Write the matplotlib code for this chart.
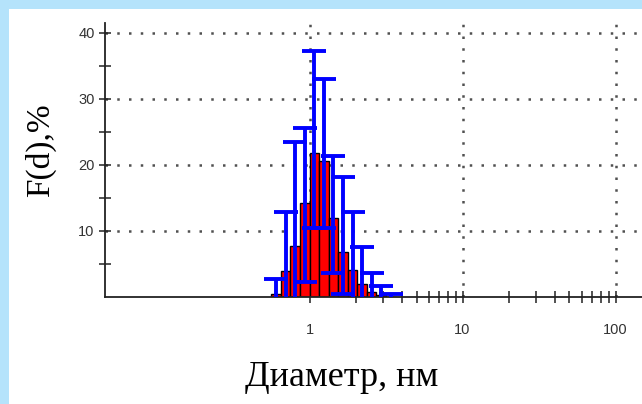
##````````````````````````````````````````````````````````````````````````````````````````````````##
# particle size distribution, F(d) vs diameter (log axis), bars with error bars
import numpy as np
import matplotlib.pyplot as plt
from matplotlib.patches import Rectangle
from matplotlib.ticker import FixedLocator, NullFormatter

##````````````````````````````````````````````````````````````````````````````````````````````````##
# data

# bin edges of the histogram, nm
bin_edges = [0.562, 0.649, 0.750, 0.866, 1.000, 1.155, 1.334, 1.540, 1.778, 2.054, 2.371, 2.738, 3.162, 3.652]

# bar heights, %
f_values = [0.5, 4.0, 7.8, 14.3, 21.8, 20.6, 11.9, 6.8, 4.1, 2.0, 0.8, 0.3, 0.0]

# error bar ends, %
err_upper = [2.8, 12.8, 23.5, 25.6, 37.3, 33.0, 21.3, 18.2, 12.8, 7.5, 3.7, 1.6, 0.5]
err_lower = [-1.8, -4.8, -7.9, 2.3, 10.4, 10.4, 3.7, 0.5, -4.6, -3.5, -2.1, -1.0, -0.5]

# axis ticks
x_major = [1, 10, 100]
x_minor = [2, 3, 4, 5, 6, 7, 8, 9, 20, 30, 40, 50, 60, 70, 80, 90]
y_major = [10, 20, 30, 40]
y_minor = [5, 15, 25, 35]

##````````````````````````````````````````````````````````````````````````````````````````````````##
# figure and frame

W, H = 642, 404
fig = plt.figure(figsize=(W / 100, H / 100), dpi=100)
fig.patch.set_facecolor('white')

# light blue strips on top and left
fig.patches.append(Rectangle((0, 1 - 9 / H), 1, 9 / H, transform=fig.transFigure,
                             facecolor='#b5e3fb', edgecolor='none', zorder=0))
fig.patches.append(Rectangle((0, 0), 9 / W, 1, transform=fig.transFigure,
                             facecolor='#b5e3fb', edgecolor='none', zorder=0))

ax_left, ax_bottom, ax_top = 105, 297, 23
ax = fig.add_axes([ax_left / W, 1 - ax_bottom / H, 1 - ax_left / W, (ax_bottom - ax_top) / H])
ax.set_facecolor('none')

##````````````````````````````````````````````````````````````````````````````````````````````````##
# bars and error bars

edges = np.array(bin_edges)
lefts = edges[:-1]
widths = np.diff(edges)
centers = np.sqrt(edges[:-1] * edges[1:])

vals = np.array(f_values)
up = np.array(err_upper) - vals
lo = vals - np.array(err_lower)

ax.bar(lefts, vals, width=widths, align='edge', color='#ff0000',
       edgecolor='black', linewidth=1.0, zorder=2)
ax.errorbar(centers, vals, yerr=[lo, up], fmt='none', ecolor='#0000ff',
            elinewidth=2.8, capsize=8.5, capthick=2.8, zorder=3)

##````````````````````````````````````````````````````````````````````````````````````````````````##
# axes styling

ax.set_xscale('log')
ax.set_xlim(0.046, 10 ** 2.173)
ax.set_ylim(0, 41.5)

ax.xaxis.set_major_locator(FixedLocator(x_major))
ax.xaxis.set_minor_locator(FixedLocator(x_minor))
ax.xaxis.set_minor_formatter(NullFormatter())
ax.set_xticklabels([str(v) for v in x_major])
ax.yaxis.set_major_locator(FixedLocator(y_major))
ax.yaxis.set_minor_locator(FixedLocator(y_minor))
ax.set_yticklabels([str(v) for v in y_major])

for s in ['top', 'right']:
    ax.spines[s].set_visible(False)
for s in ['left', 'bottom']:
    ax.spines[s].set_linewidth(1.3)
    ax.spines[s].set_color('#222222')

ax.tick_params(which='both', direction='inout', length=9, width=1.1, color='#222222')
ax.tick_params(axis='y', which='major', pad=3, labelsize=10.5, labelcolor='#333333')
ax.tick_params(axis='x', which='major', pad=14, labelsize=10.5, labelcolor='#333333')
for lab in ax.get_xticklabels() + ax.get_yticklabels():
    lab.set_fontfamily('Liberation Sans')

# dotted grid
ax.grid(True, which='major', linestyle=(0, (1, 3.7)), linewidth=1.8, color='#505050', zorder=1)
ax.set_axisbelow(True)

##````````````````````````````````````````````````````````````````````````````````````````````````##
# axis titles

fig.text(342 / W, 1 - 386 / H, 'Диаметр, нм', ha='center', va='baseline',
         fontsize=26, family='Liberation Serif')
fig.text(40 / W, 1 - 150 / H, 'F(d),%', ha='center', va='center', rotation=90,
         fontsize=24, family='Liberation Serif')

plt.savefig('out.png', dpi=100)
